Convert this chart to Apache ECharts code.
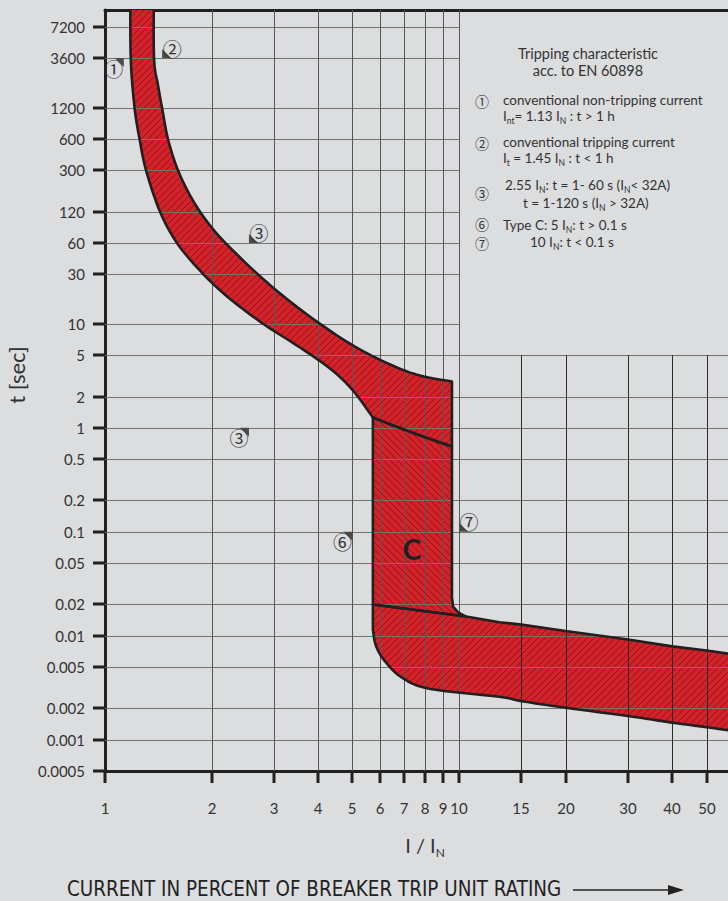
<!DOCTYPE html>
<html>
<head>
<meta charset="utf-8">
<title>Tripping characteristic C</title>
<script src="https://cdn.jsdelivr.net/npm/echarts@6.0.0/dist/echarts.min.js"></script>
<style>
html,body{margin:0;padding:0;background:#dcdddf;overflow:hidden;}
#chart{width:728px;height:901px;}
</style>
</head>
<body>
<div id="chart"></div>
<script>
// ================= DATA =================
// Axis ticks
const xTickValues = [1, 2, 3, 4, 5, 6, 7, 8, 9, 10, 15, 20, 30, 40, 50];
const xTickLabels = ['1', '2', '3', '4', '5', '6', '7', '8', '9', '10', '15', '20', '30', '40', '50'];
const yTickValues = [7200, 3600, 1200, 600, 300, 120, 60, 30, 10, 5, 2, 1, 0.5, 0.2, 0.1, 0.05, 0.02, 0.01, 0.005, 0.002, 0.001, 0.0005];
const yTickLabels = ['7200', '3600', '1200', '600', '300', '120', '60', '30', '10', '5', '2', '1', '0.5', '0.2', '0.1', '0.05', '0.02', '0.01', '0.005', '0.002', '0.001', '0.0005'];

// Axis ranges (I/IN and seconds)
const xMin = 1, xMax = 57.5;
const yMin = 0.0005, yMax = 10450;

// Thermal band: lower (non-tripping) edge, top -> corner of the C zone
const thermalLowI = [1.18, 1.182, 1.212, 1.252, 1.306, 1.43, 1.597, 1.855, 2.183, 2.741, 3.555, 4.32, 4.99, 5.71];
const thermalLowT = [20000, 3700, 1200, 600, 300, 120, 60, 32.5, 19.1, 10.5, 5.92, 3.72, 2.335, 1.256];
// Thermal lower edge continued inside the C zone
const magTopI = [5.71, 7.37, 9.55];
const magTopT = [1.256, 0.90, 0.66];
// Thermal band: upper (tripping) edge, top -> right end
const thermalUpI = [1.375, 1.375, 1.411, 1.449, 1.506, 1.597, 1.716, 1.855, 2.045, 2.285, 2.671, 3.225, 4.05, 5.08, 6.39, 7.76, 9.55];
const thermalUpT = [20000, 3700, 2000, 1200, 600, 318, 187, 120, 77.2, 51.8, 31.1, 17.9, 10, 6.05, 4.06, 3.18, 2.79];
// Magnetic (type C) zone: right edge with its bend into the instantaneous band
const cRightI = [9.55, 9.62, 9.94, 10.47];
const cRightT = [0.0233, 0.0191, 0.0168, 0.0153];
// Instantaneous band: upper edge (left -> right)
const instTopI = [5.71, 10.47, 13, 15, 20, 30, 40, 50, 60];
const instTopT = [0.0200, 0.0153, 0.0135, 0.0128, 0.0111, 0.0092, 0.0079, 0.0072, 0.0066];
// Instantaneous band: lower edge (right -> left, round corner up to the C zone)
const instBotI = [60, 50, 40, 30, 20, 15, 13, 8.3, 6.9, 6.15, 5.82, 5.71];
const instBotT = [0.00121, 0.00132, 0.00146, 0.00169, 0.00203, 0.00235, 0.00259, 0.00308, 0.00395, 0.0058, 0.0081, 0.0115];

// Numbered reference markers on the chart
const markerI = [1.13, 1.45, 2.55, 2.55, 5, 10];
const markerT = [3600, 3600, 60, 1, 0.1, 0.1];
const markerLabel = ['①', '②', '③', '③', '⑥', '⑦'];
const markerSide = ['dl', 'ur', 'ur', 'dl', 'dl', 'ur'];

// Legend panel corner (grid lines stop there)
const panelI = 10, panelT = 5;

// ================= STYLE =================
const FONT = 'Lato, "Noto Sans", sans-serif';
const CIRC = '"Noto Sans CJK JP", "Noto Sans CJK SC", "DejaVu Sans", sans-serif';
const RED = '#d3222a';
const INK = '#231f20';
const TXT = '#333333';

function makeHatch(dir) {
  const s = 7;
  const c = document.createElement('canvas');
  c.width = s; c.height = s;
  const g = c.getContext('2d');
  g.fillStyle = RED; g.fillRect(0, 0, s, s);
  g.strokeStyle = 'rgba(60,10,12,0.6)';
  g.lineWidth = 0.75;
  g.beginPath();
  if (dir === '/') {
    g.moveTo(0, s); g.lineTo(s, 0);
    g.moveTo(-1, 1); g.lineTo(1, -1);
    g.moveTo(s - 1, s + 1); g.lineTo(s + 1, s - 1);
  } else {
    g.moveTo(0, 0); g.lineTo(s, s);
    g.moveTo(-1, s - 1); g.lineTo(1, s + 1);
    g.moveTo(s - 1, -1); g.lineTo(s + 1, 1);
  }
  g.stroke();
  return { image: c, repeat: 'repeat', imageWidth: s, imageHeight: s };
}
const hatches = { '/': makeHatch('/'), '\\': makeHatch('\\') };

const SEG = 8;
function catmull(pts) {
  if (pts.length < 3) return pts.slice();
  const out = [];
  for (let i = 0; i < pts.length - 1; i++) {
    const p0 = pts[i - 1] || pts[i], p1 = pts[i], p2 = pts[i + 1], p3 = pts[i + 2] || pts[i + 1];
    for (let s = 0; s < SEG; s++) {
      const t = s / SEG, t2 = t * t, t3 = t2 * t;
      const f = k => 0.5 * (2 * p1[k] + (-p0[k] + p2[k]) * t + (2 * p0[k] - 5 * p1[k] + 4 * p2[k] - p3[k]) * t2 + (-p0[k] + 3 * p1[k] - 3 * p2[k] + p3[k]) * t3);
      out.push([f(0), f(1)]);
    }
  }
  out.push(pts[pts.length - 1]);
  return out;
}
const rev = a => a.slice().reverse();

const shapes = [
  { hatch: '/', edges: [
    { I: thermalLowI, t: thermalLowT, smooth: true },
    { I: magTopI, t: magTopT, smooth: true },
    { I: rev(thermalUpI), t: rev(thermalUpT), smooth: true }
  ] },
  { hatch: '\\', edges: [
    { I: magTopI, t: magTopT, smooth: true },
    { I: cRightI, t: cRightT, smooth: false },
    { I: [instTopI[0]], t: [instTopT[0]], smooth: false }
  ] },
  { hatch: '/', edges: [
    { I: instTopI, t: instTopT, smooth: false },
    { I: instBotI, t: instBotT, smooth: true }
  ] }
];

function shapePoints(shape, api) {
  let out = [];
  shape.edges.forEach(e => {
    let pts = e.I.map((v, i) => api.coord([v, e.t[i]]));
    if (e.smooth) pts = catmull(pts);
    out = out.concat(pts);
  });
  return out;
}

// grid segments
const gridSegs = [];
yTickValues.forEach(v => { if (v > yMin) gridSegs.push([xMin, v, v > panelT ? panelI : xMax, v, 0]); });
xTickValues.forEach(v => { if (v > xMin) gridSegs.push([v, yMin, v, v > panelI ? panelT : yMax, 1]); });

// tick items
const tickItems = yTickValues.map((v, i) => [xMin, v, i, 0]).concat(xTickValues.map((v, i) => [v, yMin, i, 1]));

function clipRect(params) {
  const c = params.coordSys;
  return { type: 'rect', shape: { x: c.x, y: c.y, width: c.width, height: c.height } };
}

const chart = echarts.init(document.getElementById('chart'), null, { renderer: 'svg', width: 728, height: 901 });

const legendRich = {
  n: { fontSize: 13.5, fontFamily: FONT, fill: TXT },
  s: { fontSize: 8.5, fontFamily: FONT, fill: TXT, padding: [9, 0, 0, 0] }
};
function lt(x, y, text, align, size) {
  return { type: 'text', x: x, y: y, silent: true, z: 50,
    style: { text: text, rich: legendRich, fontSize: size || 13.5, fontFamily: FONT, fill: TXT, align: align || 'left', verticalAlign: 'middle' } };
}
function circ(x, y, text) {
  return { type: 'text', x: x, y: y, silent: true, z: 50,
    style: { text: text, fontSize: 14, lineHeight: 13, fontFamily: CIRC, fill: TXT, align: 'center', verticalAlign: 'middle' } };
}

const option = {
  backgroundColor: '#dcdddf',
  animation: false,
  tooltip: { show: false },
  grid: { left: 105, right: 0, top: 10, bottom: 130, containLabel: false },
  xAxis: [
    { type: 'log', logBase: 10, min: xMin, max: xMax, position: 'bottom',
      axisLine: { show: true, lineStyle: { color: INK, width: 3 } },
      axisTick: { show: false }, axisLabel: { show: false }, splitLine: { show: false } },
    { type: 'log', logBase: 10, min: xMin, max: xMax, position: 'top',
      axisLine: { show: true, lineStyle: { color: INK, width: 3 } },
      axisTick: { show: false }, axisLabel: { show: false }, splitLine: { show: false } }
  ],
  yAxis: [
    { type: 'log', logBase: 10, min: yMin, max: yMax,
      axisLine: { show: true, lineStyle: { color: INK, width: 3 } },
      axisTick: { show: false }, axisLabel: { show: false }, splitLine: { show: false } }
  ],
  graphic: { elements: [
    { type: 'text', x: 16, y: 375, rotation: Math.PI / 2, silent: true, z: 50,
      style: { text: 't [sec]', fontSize: 22, fontFamily: FONT, fill: TXT, align: 'center', verticalAlign: 'middle' } },
    { type: 'text', x: 425, y: 845, silent: true, z: 50,
      style: { text: '{a|I / I}{b|N}', align: 'center', verticalAlign: 'middle',
        rich: { a: { fontSize: 20, fontFamily: FONT, fill: TXT }, b: { fontSize: 12, fontFamily: FONT, fill: TXT, padding: [14, 0, 0, 0] } } } },
    { type: 'text', x: 412, y: 549, silent: true, z: 100,
      style: { text: 'C', fontSize: 28, fontWeight: 'bold', fontFamily: FONT, fill: INK, align: 'center', verticalAlign: 'middle' } },
    { type: 'text', x: 67, y: 889, silent: true, z: 50,
      style: { text: 'CURRENT IN PERCENT OF BREAKER TRIP UNIT RATING', fontSize: 20.4, lineHeight: 20, fontFamily: '"Liberation Sans Narrow", "DejaVu Sans Condensed", sans-serif', fill: '#222', align: 'left', verticalAlign: 'middle' } },
    { type: 'line', silent: true, z: 50, shape: { x1: 573, y1: 890, x2: 672, y2: 890 }, style: { stroke: '#222', lineWidth: 1.5 } },
    { type: 'polygon', silent: true, z: 50, shape: { points: [[668, 885], [684, 890], [668, 895]] }, style: { fill: '#222' } },

    lt(588, 53, 'Tripping characteristic', 'center', 14.5),
    lt(588, 70, 'acc. to EN 60898', 'center', 14.5),
    circ(482, 101, '①'),
    lt(503, 100, 'conventional non-tripping current'),
    lt(503, 116, '{n|I}{s|nt}{n|= 1.13 I}{s|N}{n| : t > 1 h}'),
    circ(482, 143, '②'),
    lt(503, 142, 'conventional tripping current'),
    lt(503, 158, '{n|I}{s|t}{n| = 1.45 I}{s|N}{n| : t < 1 h}'),
    circ(482, 193, '③'),
    lt(505, 185, '{n|2.55 I}{s|N}{n|: t = 1- 60 s (I}{s|N}{n|< 32A)}'),
    lt(523, 203, '{n|t = 1-120 s (I}{s|N}{n| > 32A)}'),
    circ(482, 224, '⑥'),
    lt(503, 225, '{n|Type C: 5 I}{s|N}{n|: t > 0.1 s}'),
    circ(482, 243, '⑦'),
    lt(530, 242, '{n|10 I}{s|N}{n|: t < 0.1 s}')
  ] },
  series: [
    { // filled, hatched zones
      type: 'custom', name: 'zones', z: 1, silent: true, coordinateSystem: 'cartesian2d',
      data: shapes.map((s, k) => [s.edges[0].I[0], s.edges[0].t[0], k]),
      renderItem: function (params, api) {
        const s = shapes[params.dataIndex];
        return { type: 'polygon', shape: { points: shapePoints(s, api) },
          style: { fill: hatches[s.hatch], stroke: null }, clipPath: clipRect(params) };
      }
    },
    { // grid lines
      type: 'custom', name: 'grid', z: 2, silent: true, coordinateSystem: 'cartesian2d',
      dimensions: ['x1', 'y1', 'x2', 'y2', 'kind'],
      encode: { x: [0, 2], y: [1, 3] },
      data: gridSegs,
      renderItem: function (params, api) {
        const p1 = api.coord([api.value(0), api.value(1)]);
        const p2 = api.coord([api.value(2), api.value(3)]);
        const vert = api.value(4) === 1;
        let stroke = '#727272';
        if (vert) stroke = api.value(0) > panelI ? '#2a2a2a' : '#575757';
        if (vert) { const x = Math.round(p1[0]) + 0.5; p1[0] = x; p2[0] = x; }
        else { const y = Math.round(p1[1]) + 0.5; p1[1] = y; p2[1] = y; }
        return { type: 'line', shape: { x1: p1[0], y1: p1[1], x2: p2[0], y2: p2[1] },
          style: { stroke: stroke, lineWidth: 1 } };
      }
    },
    { // zone outlines
      type: 'custom', name: 'outlines', z: 3, silent: true, coordinateSystem: 'cartesian2d',
      data: shapes.map((s, k) => [s.edges[0].I[0], s.edges[0].t[0], k]),
      renderItem: function (params, api) {
        const s = shapes[params.dataIndex];
        return { type: 'polygon', shape: { points: shapePoints(s, api) },
          style: { fill: 'none', stroke: INK, lineWidth: 2.6, lineJoin: 'round' }, clipPath: clipRect(params) };
      }
    },
    { // axis ticks and tick labels
      type: 'custom', name: 'ticks', z: 4, silent: true, coordinateSystem: 'cartesian2d',
      data: tickItems,
      renderItem: function (params, api) {
        const p = api.coord([api.value(0), api.value(1)]);
        const idx = api.value(2);
        if (api.value(3) === 0) {
          const y = Math.round(p[1]);
          return { type: 'group', children: [
            { type: 'line', shape: { x1: p[0] - 12, y1: y, x2: p[0], y2: y }, style: { stroke: INK, lineWidth: 3 } },
            { type: 'text', x: p[0] - 20, y: y, style: { text: yTickLabels[idx], fontSize: 15, fontFamily: FONT, fill: TXT, align: 'right', verticalAlign: 'middle' } }
          ] };
        }
        const x = Math.round(p[0]);
        return { type: 'group', children: [
          { type: 'line', shape: { x1: x, y1: p[1], x2: x, y2: p[1] + 12 }, style: { stroke: INK, lineWidth: 3 } },
          { type: 'text', x: x, y: p[1] + 37, style: { text: xTickLabels[idx], fontSize: 15, fontFamily: FONT, fill: TXT, align: 'center', verticalAlign: 'middle' } }
        ] };
      }
    },
    { // numbered markers
      type: 'custom', name: 'markers', z: 5, silent: true, coordinateSystem: 'cartesian2d',
      data: markerI.map((v, i) => [v, markerT[i], i]),
      renderItem: function (params, api) {
        const p = api.coord([api.value(0), api.value(1)]);
        const i = api.value(2);
        const sx = markerSide[i] === 'ur' ? 1 : -1;
        const sy = markerSide[i] === 'ur' ? -1 : 1;
        const s = 9;
        return { type: 'group', children: [
          { type: 'polygon', shape: { points: [[p[0], p[1]], [p[0], p[1] + sy * s], [p[0] + sx * s, p[1]]] },
            style: { fill: '#4a4a4a' } },
          { type: 'text', x: p[0] + sx * 10, y: p[1] + sy * 10,
            style: { text: markerLabel[i], fontSize: 19, fontFamily: CIRC, fill: TXT, align: 'center', verticalAlign: 'middle' } }
        ] };
      }
    }
  ]
};
chart.setOption(option);
</script>
</body>
</html>
